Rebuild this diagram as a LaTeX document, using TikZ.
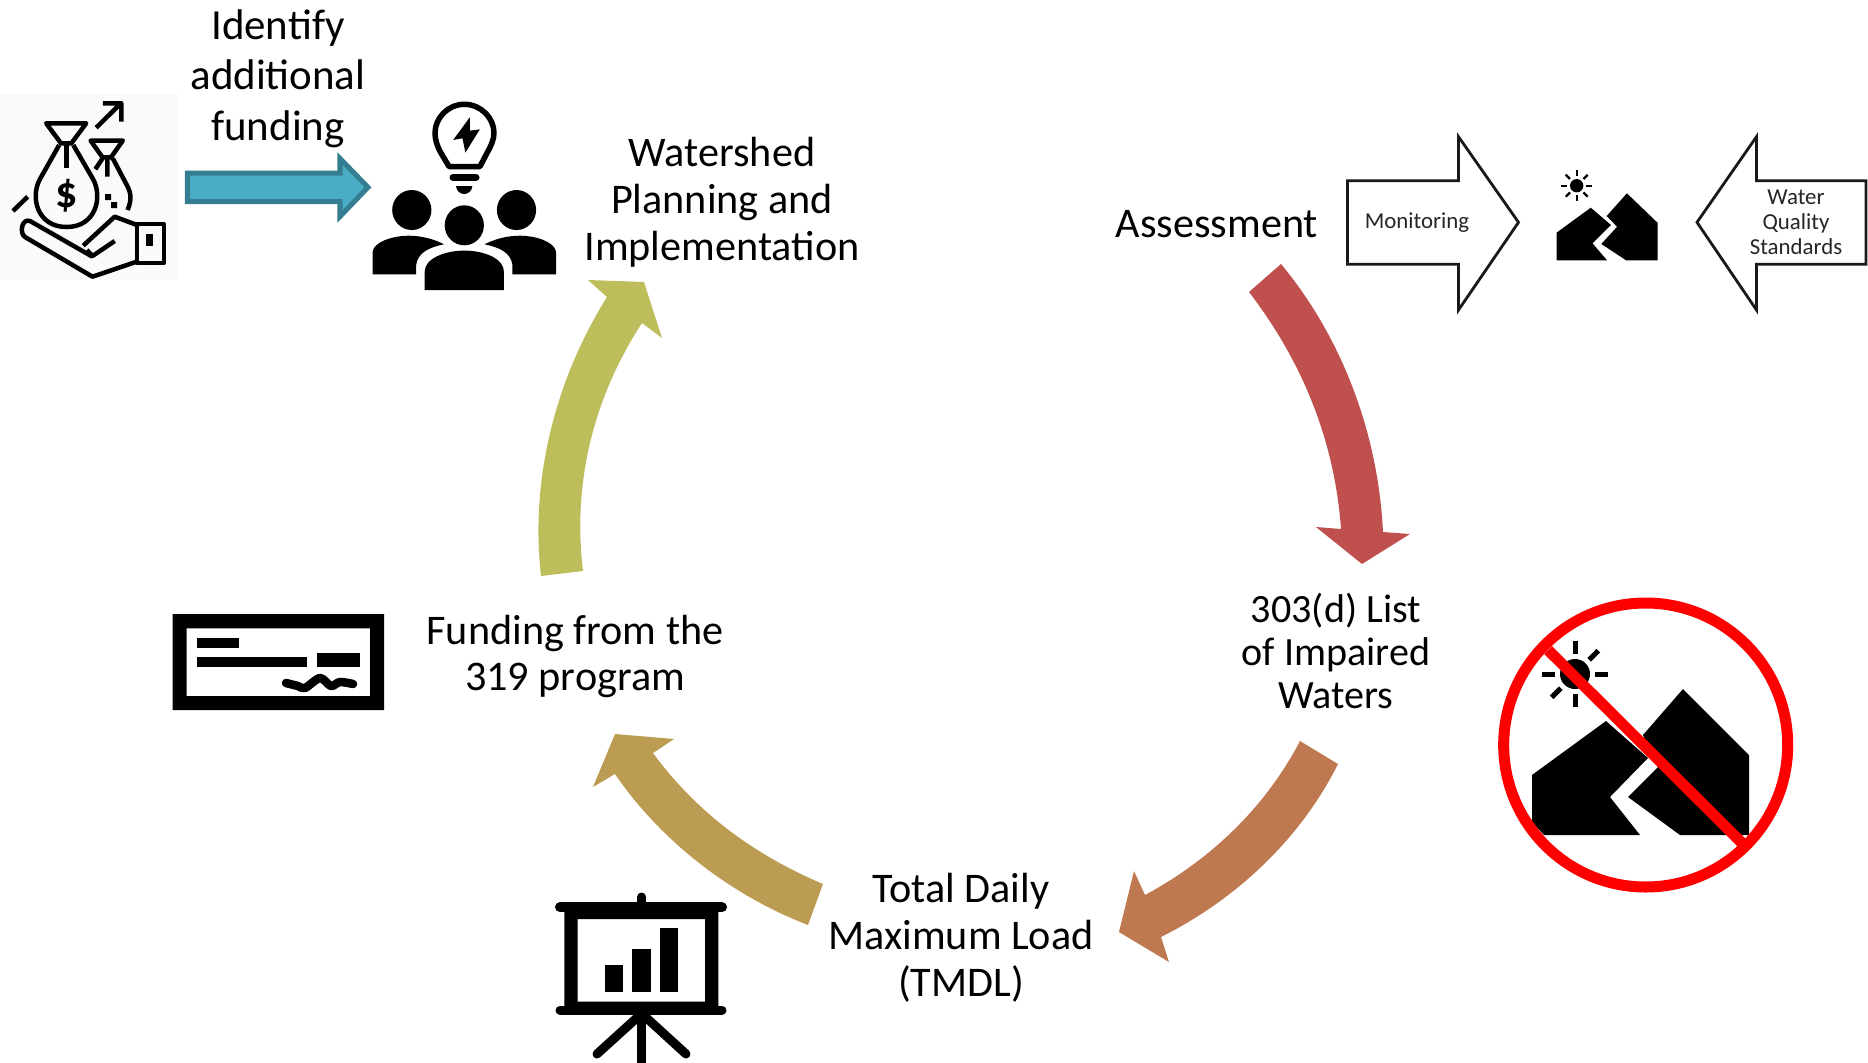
\documentclass[tikz,border=0pt]{standalone}
\usepackage{fontspec}
\usetikzlibrary{calc}
\setmainfont{Carlito}
\definecolor{cycred}{HTML}{C0504D}
\definecolor{cycorange}{HTML}{BE7950}
\definecolor{cyctan}{HTML}{BC9B52}
\definecolor{cycolive}{HTML}{BDBE5B}
\definecolor{fundblue}{HTML}{4BACC6}
\definecolor{fundedge}{HTML}{357D91}
\definecolor{nored}{HTML}{FF0000}
\definecolor{iconbg}{HTML}{FAFAFA}
\tikzset{
	lblbig/.style={align=center, font=\fontsize{12.2}{14.4}\selectfont},
	lblmid/.style={align=center, font=\fontsize{12}{13.3}\selectfont},
	lbltight/.style={align=center, font=\fontsize{11.4}{12.2}\selectfont},
	lblsmall/.style={align=center, font=\fontsize{6.5}{7.1}\selectfont, text=black!85},
	whitearrow/.style={draw=black!90, fill=white, line width=.028cm, line join=miter},
	iconline/.style={draw=black, line width=.045cm, fill=none, line join=round},
	ray/.style={draw=black, line width=.05cm},
	rayb/.style={draw=black, line width=.023cm},
}
\begin{document}
\begin{tikzpicture}[x=.01cm,y=-.01cm]
	\useasboundingbox (0,0) rectangle (1868,1063);

	% cycle
	\fill [cycred] (1281,264) .. controls (1340,335) and (1378,430) .. (1383,532) -- (1410,534) -- (1362,564) -- (1316,527) -- (1341,529) .. controls (1335,445) and (1305,365) .. (1249,292) -- cycle;
	\fill [cycorange] (1300,741) .. controls (1265,808) and (1210,860) .. (1145,895) -- (1134,871) -- (1119,932) -- (1169,962) -- (1161,937) .. controls (1235,900) and (1300,840) .. (1338,764) -- cycle;
	\fill [cyctan] (823,884) .. controls (750,853) and (695,810) .. (653,753) -- (674,739) -- (615,734) -- (593,787) -- (615,774) .. controls (660,840) and (730,895) .. (808,925) -- cycle;
	\fill [cycolive] (541,576) .. controls (530,480) and (555,380) .. (607,297) -- (588,280) -- (644,282) -- (662,338) -- (642,323) .. controls (595,395) and (572,480) .. (583,571) -- cycle;

	\node (assess) [lblmid] at (1217,224) {Assessment};
	\node (impaired) [lbltight] at (1336,651) {303(d) List\\of Impaired\\Waters};
	\node (tmdl) [lblmid] at (961,938) {Total Daily\\Maximum Load\\(TMDL)};
	\node (funds) [lblmid] at (575,656.5) {Funding from the\\319 program};
	\node (plan) [lblmid] at (722,202) {Watershed\\Planning and\\Implementation};
	\node (extra) [lblbig] at (278,78.5) {Identify\\additional\\funding};

	% blue arrow
	\draw [draw=fundedge, fill=fundblue, line width=.05cm, miter limit=10] (187.5,173.2) -- (340,173.2) -- (340,158.5) -- (368,187.3) -- (340,216.5) -- (340,201.5) -- (187.5,201.5) -- cycle;

	% monitoring and standards
	\draw [whitearrow] (1347.5,180.7) -- (1458.5,180.7) -- (1458.5,136.7) -- (1518.5,222.3) -- (1458.5,310) -- (1458.5,264.3) -- (1347.5,264.3) -- cycle;
	\draw [whitearrow] (1866,180.7) -- (1756.5,180.7) -- (1756.5,136.7) -- (1697,222.3) -- (1756.5,310) -- (1756.5,264.3) -- (1866,264.3) -- cycle;
	\node (monitor) [lblsmall] at (1417,222.5) {Monitoring};
	\node (standard) [lblsmall] at (1796,222) {Water\\Quality\\Standards};

	% small mountains
	\fill (1556.5,232.7) -- (1590.8,207.7) -- (1611,225) -- (1592.5,243.3) -- (1607,260.3) -- (1556.5,260.3) -- cycle;
	\fill (1606.7,216) -- (1626.9,193.3) -- (1657.5,222.7) -- (1657.5,260.3) -- (1626.2,260.3) -- (1601.3,244) -- (1617.1,226.7) -- cycle;
	\fill (1576.7,185.7) circle [radius=6.7];
	\foreach \a in {0,45,...,315}
		\draw [rayb] ($(1576.7,185.7)+(\a:9.5)$) -- ($(1576.7,185.7)+(\a:15.5)$);

	% large mountains
	\fill (1532,775) -- (1606,721) -- (1648,758) -- (1610,797) -- (1640,835) -- (1544,835) -- (1532,822) -- cycle;
	\fill (1643,735) -- (1683,689) -- (1749,755) -- (1749,835) -- (1680,835) -- (1628,797) -- (1658,767) -- cycle;
	\fill (1575,674) circle [radius=15];
	\foreach \a in {0,90,135,180,270,315}
		\draw [ray] ($(1575,674)+(\a:20)$) -- ($(1575,674)+(\a:33)$);
	\draw [nored, line width=.11cm] (1645.7,745) circle [radius=142];
	\draw [nored, line width=.11cm] (1548,650) -- (1742,843);

	% money
	\fill [iconbg] (0,94) rectangle (178.7,280);
	\draw [iconline] (96.2,127.7) -- (120.2,104) (102.8,103.3) -- (121.3,103.3) -- (121.3,121.6);
	\draw [iconline] (46.2,123.3) -- (86.2,123.3) -- (71.4,143.3) -- (61,143.3) -- cycle;
	\draw [iconline] (59.2,145) -- (40,179) .. controls (30,197) and (37,227) .. (66.6,227) .. controls (96,227) and (103,197) .. (93,179) -- (73.3,145);
	\draw [iconline] (66.6,145) -- (66.6,168.3);
	\node (dollar) [font=\fontsize{12.5}{14}\selectfont\bfseries] at (66.6,196) {\$};
	\draw [iconline] (90.6,140.6) -- (122.8,140.6) -- (111,157.3) -- (102.5,157.3) -- cycle;
	\draw [iconline] (107.3,158.4) -- (107.3,176.7) (102.5,158.4) -- (95.4,169.2);
	\draw [iconline] (112.8,158.4) -- (127,185.4) .. controls (132,194.4) and (131,201.6) .. (127.6,210);
	\fill (105,194) rectangle (111,200) (111,202) rectangle (117,208);
	\draw [iconline] (13,211) -- (27.7,196.7);
	\draw [iconline] (136.9,225) -- (114.7,216.7) -- (83.2,245.7);
	\draw [iconline] (92.5,256.7) -- (30,221) .. controls (22,218) and (19,233) .. (25,237) -- (92.5,276.7) -- (136.9,261.6);
	\draw [iconline] (86.9,250) -- (92.5,256) -- (114.7,241);
	\draw [iconline] (136.9,224.2) rectangle (163.9,262.9);
	\fill (146.1,234) rectangle (152.8,246);

	% bulb and people
	\draw [iconline, line width=.055cm] (449,166.5) -- (441,153) .. controls (437,146) and (435,139.5) .. (435,133) .. controls (435,118) and (448,104.3) .. (464.3,104.3) .. controls (481,104.3) and (494,118) .. (494,133) .. controls (494,139.5) and (491,146) .. (487,153) -- (480,166.5) -- cycle;
	\fill (469.8,117.3) -- (453.2,140) -- (462.5,138.3) -- (465.4,152.6) -- (479.8,129.4) -- (469.8,130.6) -- cycle;
	\draw [line width=.07cm, line cap=round] (453,177.3) -- (476,177.3);
	\fill (456,186) -- (472.4,186) .. controls (472,191) and (468,194) .. (464.3,194) .. controls (460,194) and (456.5,191) .. (456,186) -- cycle;
	\fill (411.8,210) ellipse [x radius=19.6, y radius=20];
	\fill (516.5,210) ellipse [x radius=19.6, y radius=20];
	\fill (464.3,225.3) ellipse [x radius=19.6, y radius=20];
	\fill (424.7,290) -- (424.7,271.6) .. controls (424.7,258.5) and (445,250.6) .. (464.3,250.6) .. controls (484,250.6) and (503.9,258.5) .. (503.9,271.6) -- (503.9,290) -- cycle;
	\fill (372.6,274.3) -- (372.6,251.6) .. controls (374,242.2) and (392,235.7) .. (408.8,235.7) .. controls (422,235.7) and (435,239.5) .. (444,244.3) .. controls (428,247.6) and (418,253) .. (416.2,264.7) -- (416.2,274.3) -- cycle;
	\fill (556,274.3) -- (556,251.6) .. controls (554.6,242.2) and (536.6,235.7) .. (519.8,235.7) .. controls (506.6,235.7) and (493.6,239.5) .. (484.6,244.3) .. controls (500.6,247.6) and (510.6,253) .. (512.4,264.7) -- (512.4,274.3) -- cycle;

	% cheque
	\fill [even odd rule] (172.7,614) rectangle (384,710) (186.7,628.3) rectangle (370,696);
	\fill (196.7,638.3) rectangle (239.3,647.7);
	\fill (196.7,657.3) rectangle (306.7,667);
	\fill (316.7,652.7) rectangle (360,667);
	\draw [line width=.085cm, line cap=round, line join=round] plot [smooth] coordinates {(286,683) (298,686) (305,688) (320,678) (331,686) (340,682) (353,684)};

	% board
	\fill [even odd rule] (564.3,912) rectangle (718.3,1010) (577.7,919) rectangle (705,1001.7);
	\draw [line width=.1cm, line cap=round] (560,907.3) -- (722,907.3);
	\draw [line width=.09cm, line cap=round] (641.7,897) -- (641.7,905);
	\draw [line width=.09cm, line cap=round] (560,1010) -- (722,1010);
	\fill (605,964.7) rectangle (623,992);
	\fill (632.3,948.7) rectangle (650.7,992);
	\fill (660,928.3) rectangle (677.7,992);
	\draw [line width=.09cm] (641.7,1010) -- (641.7,1063);
	\draw [line width=.09cm, line cap=round] (640,1015) -- (597,1054);
	\draw [line width=.09cm, line cap=round] (643.3,1015) -- (686,1054);
\end{tikzpicture}
\end{document}
